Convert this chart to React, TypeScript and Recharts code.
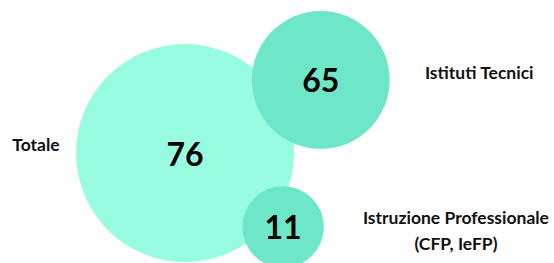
import { ScatterChart, Scatter, XAxis, YAxis, ZAxis } from "recharts"

const categories = ["Totale", "Istituti Tecnici", "Istruzione Professionale"]
const values = [76, 65, 11]
// bubble placement in chart units (x/y 0-100) and relative bubble area
const bubbleX = [33.4, 57.9, 51.1]
const bubbleY = [41.8, 69.6, 13.7]
const bubbleArea = [100, 40, 14]
const bubbleColors = ["#98fce0", "#6ee6c8", "#6ee6c8"]

// category labels, one entry per line
const labelLines = [["Totale"], ["Istituti Tecnici"], ["Istruzione Professionale", "(CFP, IeFP)"]]
const labelX = [6.5, 86.5, 82.3]
const labelY = [44.9, 72.6, 12.5]

const bubbles = categories.map((name, i) => ({
  name,
  value: values[i],
  x: bubbleX[i],
  y: bubbleY[i],
  z: bubbleArea[i],
  color: bubbleColors[i],
}))

const labels = categories.map((name, i) => ({
  name,
  lines: labelLines[i],
  x: labelX[i],
  y: labelY[i],
}))

const FONT = "Lato, 'Open Sans', sans-serif"

function Bubble(props: any) {
  const { cx, cy, size, payload } = props
  const r = Math.sqrt((size ?? 0) / Math.PI)
  return (
    <g>
      <circle cx={cx} cy={cy} r={r} fill={payload.color} />
      <text
        x={cx}
        y={cy}
        textAnchor="middle"
        dominantBaseline="central"
        fontFamily={FONT}
        fontWeight={700}
        fontSize={32}
        fill="#000"
      >
        {payload.value}
      </text>
    </g>
  )
}

function CategoryLabel(props: any) {
  const { cx, cy, payload } = props
  const lines: string[] = payload.lines
  const lh = 26
  const top = cy - ((lines.length - 1) * lh) / 2
  return (
    <g>
      {lines.map((t, i) => (
        <text
          key={t}
          x={cx}
          y={top + i * lh}
          textAnchor="middle"
          dominantBaseline="central"
          fontFamily={FONT}
          fontWeight={700}
          fontSize={17.5}
          fill="#111"
        >
          {t}
        </text>
      ))}
    </g>
  )
}

export default function App() {
  return (
    <div style={{ position: "fixed", left: 0, top: 0, background: "#fff" }}>
      <ScatterChart width={554} height={263} margin={{ top: 0, right: 0, bottom: 0, left: 0 }}>
        <XAxis type="number" dataKey="x" domain={[0, 100]} hide />
        <YAxis type="number" dataKey="y" domain={[0, 100]} hide />
        <ZAxis type="number" dataKey="z" domain={[0, 100]} range={[0, Math.PI * 109 * 109]} />
        <Scatter data={bubbles} shape={<Bubble />} isAnimationActive={false} />
        <Scatter data={labels} shape={<CategoryLabel />} isAnimationActive={false} />
      </ScatterChart>
    </div>
  )
}
